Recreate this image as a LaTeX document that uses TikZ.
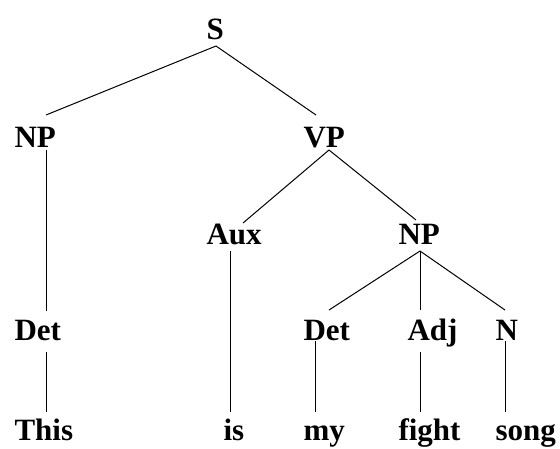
\documentclass[tikz,border=0pt]{standalone}
\usepackage{fontspec}
\setmainfont{Liberation Serif}
\usepackage{tikz}

\begin{document}
\begin{tikzpicture}[x=1pt, y=1pt, line width=1pt,
  lbl/.style={anchor=base west, inner sep=0pt, font=\fontsize{31}{36}\selectfont\bfseries}]
\useasboundingbox (0,0) rectangle (560,-448);
% categories
\node[lbl] (s) at (206,-39) {S};
\node[lbl] (np) at (14,-147) {NP};
\node[lbl] (vp) at (303,-147) {VP};
\node[lbl] (aux) at (206,-244) {Aux};
\node[lbl] (npb) at (398,-244) {NP};
\node[lbl] (det) at (14,-340) {Det};
\node[lbl] (detb) at (303,-340) {Det};
\node[lbl] (adj) at (407,-340) {Adj};
\node[lbl] (n) at (495,-340) {N};
% words
\node[lbl] (this) at (14,-440) {This};
\node[lbl] (is) at (223,-440) {is};
\node[lbl] (my) at (303,-440) {my};
\node[lbl] (fight) at (398,-440) {fight};
\node[lbl] (song) at (495,-440) {song};
% branches
\draw ([xshift=10pt,yshift=-7pt]s.base west) -- ([xshift=32pt,yshift=32pt]np.base west);
\draw ([xshift=10pt,yshift=-7pt]s.base west) -- ([xshift=13pt,yshift=32pt]vp.base west);
\draw ([xshift=32pt,yshift=-3pt]np.base west) -- ([xshift=32pt,yshift=29pt]det.base west);
\draw ([xshift=26pt,yshift=-3pt]vp.base west) -- ([xshift=37pt,yshift=21pt]aux.base west);
\draw ([xshift=26pt,yshift=-3pt]vp.base west) -- ([xshift=18pt,yshift=24pt]npb.base west);
\draw ([xshift=24pt,yshift=-7pt]aux.base west) -- ([xshift=7pt,yshift=28pt]is.base west);
\draw ([xshift=22pt,yshift=-7pt]npb.base west) -- ([xshift=26pt,yshift=30pt]detb.base west);
\draw ([xshift=22pt,yshift=-7pt]npb.base west) -- ([xshift=13pt,yshift=30pt]adj.base west);
\draw ([xshift=22pt,yshift=-7pt]npb.base west) -- ([xshift=10pt,yshift=30pt]n.base west);
\draw ([xshift=32pt,yshift=-12pt]det.base west) -- ([xshift=32pt,yshift=28pt]this.base west);
\draw ([xshift=12pt,yshift=-1pt]detb.base west) -- ([xshift=12pt,yshift=28pt]my.base west);
\draw ([xshift=13pt,yshift=-12pt]adj.base west) -- ([xshift=22pt,yshift=28pt]fight.base west);
\draw ([xshift=10pt,yshift=-1pt]n.base west) -- ([xshift=10pt,yshift=28pt]song.base west);
\end{tikzpicture}
\end{document}
